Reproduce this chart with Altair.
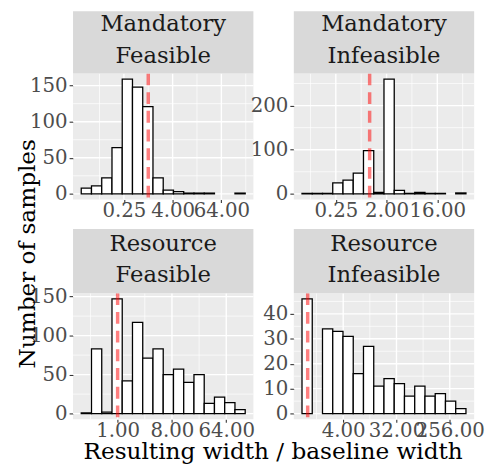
import altair as alt
import pandas as pd

FONT = "DejaVu Serif"

# ---- data ----
strip_top = ["Mandatory", "Mandatory", "Resource", "Resource"]
strip_bottom = ["Feasible", "Infeasible", "Feasible", "Infeasible"]

# histogram bins (log2 of width ratio): first edge and bin width, 16 bins each
bin_start = [-5.50, -4.00, -2.01, -0.32]
bin_width = [0.841, 0.606, 0.566, 0.577]

counts_mand_feas = [8, 11, 22, 64, 159, 148, 121, 22, 5, 3, 1, 1, 1, None, None, 1]
counts_mand_infeas = [1, 1, 1, 25, 31, 47, 98, 3, 260, 8, 1, 3, 1, 1, None, 2]
counts_res_feas = [1, 83, 2, 147, 42, 117, 71, 83, 50, 57, 40, 50, 13, 21, 14, 5]
counts_res_infeas = [46, None, 34, 33, 31, 16, 27, 11, 14, 12, 7, 11, 7, 8, 5, 2]
all_counts = [counts_mand_feas, counts_mand_infeas, counts_res_feas, counts_res_infeas]

x_major = [[0.25, 4, 64], [0.25, 2, 16], [1, 8, 64], [4, 32, 256]]
x_minor_log2 = [[-4, 0, 4, 8], [-3.5, -0.5, 2.5, 5.5], [-1.5, 1.5, 4.5], [0.5, 3.5, 6.5]]
y_major = [[0, 50, 100, 150], [0, 100, 200], [0, 50, 100, 150], [0, 10, 20, 30, 40]]
y_minor = [[25, 75, 125], [50, 150, 250], [25, 75, 125], [5, 15, 25, 35, 45]]
baseline_ratio = [1.0]

x_title = "Resulting width / baseline width"
y_title = "Number of samples"

W = 183
H = 128


def panel(i):
    lo = bin_start[i]
    w = bin_width[i]
    counts = all_counts[i]
    rows = []
    for k, c in enumerate(counts):
        if c is None:
            continue
        rows.append({"lo": 2 ** (lo + k * w), "hi": 2 ** (lo + (k + 1) * w), "n": c})
    bars_df = pd.DataFrame(rows)
    a, b = lo, lo + len(counts) * w
    R = b - a
    xs = alt.Scale(type="log", base=2, domain=[2 ** (a - 0.05 * R), 2 ** (b + 0.05 * R)], nice=False)
    m = max(c for c in counts if c is not None)
    ys = alt.Scale(domain=[-0.05 * m, 1.05 * m], nice=False, zero=False)
    xaxis = alt.Axis(values=x_major[i], format=".2f", title=None, grid=False,
                     labelOverlap=False, labelFlush=False, tickSize=3, labelPadding=-2)
    yaxis = alt.Axis(values=y_major[i], format="d", title=None, grid=False,
                     labelOverlap=False, labelFlush=False, tickSize=4, labelPadding=2)

    def X(f):
        return alt.X(f, scale=xs, axis=xaxis, title=None)

    def Y(f):
        return alt.Y(f, scale=ys, axis=yaxis, title=None)

    vmin = alt.Chart(pd.DataFrame({"x": [2 ** v for v in x_minor_log2[i]]})).mark_rule(
        color="white", strokeWidth=0.7).encode(x=X("x:Q"))
    hmin = alt.Chart(pd.DataFrame({"y": y_minor[i]})).mark_rule(
        color="white", strokeWidth=0.7).encode(y=Y("y:Q"))
    vmaj = alt.Chart(pd.DataFrame({"x": x_major[i]})).mark_rule(
        color="white", strokeWidth=1.4).encode(x=X("x:Q"))
    hmaj = alt.Chart(pd.DataFrame({"y": y_major[i]})).mark_rule(
        color="white", strokeWidth=1.4).encode(y=Y("y:Q"))

    bars = alt.Chart(bars_df).mark_rect(fill="white", stroke="black", strokeWidth=1.3).encode(
        x=X("lo:Q"),
        x2="hi:Q",
        y=Y("n:Q"),
        y2=alt.datum(0),
    )
    red = alt.Chart(pd.DataFrame({"x": baseline_ratio})).mark_rule(
        color="#FF0000", opacity=0.5, strokeWidth=3.5, strokeDash=[12, 7]).encode(
        x=X("x:Q"))

    sh = 63 if i < 2 else 65
    one = pd.DataFrame({"k": [0]})
    strip = alt.Chart(one).mark_rect(fill="#D9D9D9").encode(
        x=alt.value(0), x2=alt.value(W), y=alt.value(-sh), y2=alt.value(0))
    stext = alt.Chart(one).mark_text(
        text=[strip_top[i], strip_bottom[i]], font=FONT, fontSize=23, lineHeight=32,
        color="#1A1A1A", align="center", baseline="alphabetic").encode(
        x=alt.value(W / 2), y=alt.value(-43))

    layers = [vmin, hmin, vmaj, hmaj, bars, red, strip, stext]
    if i == 2:
        ytl = alt.Chart(one).mark_text(
            text=y_title, font=FONT, fontSize=23.5, color="black", angle=270,
            align="center", baseline="alphabetic").encode(x=alt.value(-39), y=alt.value(-40))
        xtl = alt.Chart(one).mark_text(
            text=x_title, font=FONT, fontSize=23.5, color="black",
            align="center", baseline="alphabetic").encode(x=alt.value(203), y=alt.value(168))
        layers += [ytl, xtl]
    return alt.layer(*layers).properties(width=W, height=H)


chart = alt.concat(
    panel(0), panel(1), panel(2), panel(3),
    columns=2, spacing={"row": 95, "column": 41}, bounds="flush",
).properties(
    padding={"left": 7, "top": 0, "right": 0, "bottom": 0}
).configure_view(
    fill="#EBEBEB", strokeWidth=0
).configure_axis(
    domain=False, tickColor="#333333", tickWidth=1.1,
    labelColor="#4D4D4D", labelFont=FONT, labelFontSize=20,
)

chart.save("out.html", embed_options={"renderer": "svg", "actions": False})
